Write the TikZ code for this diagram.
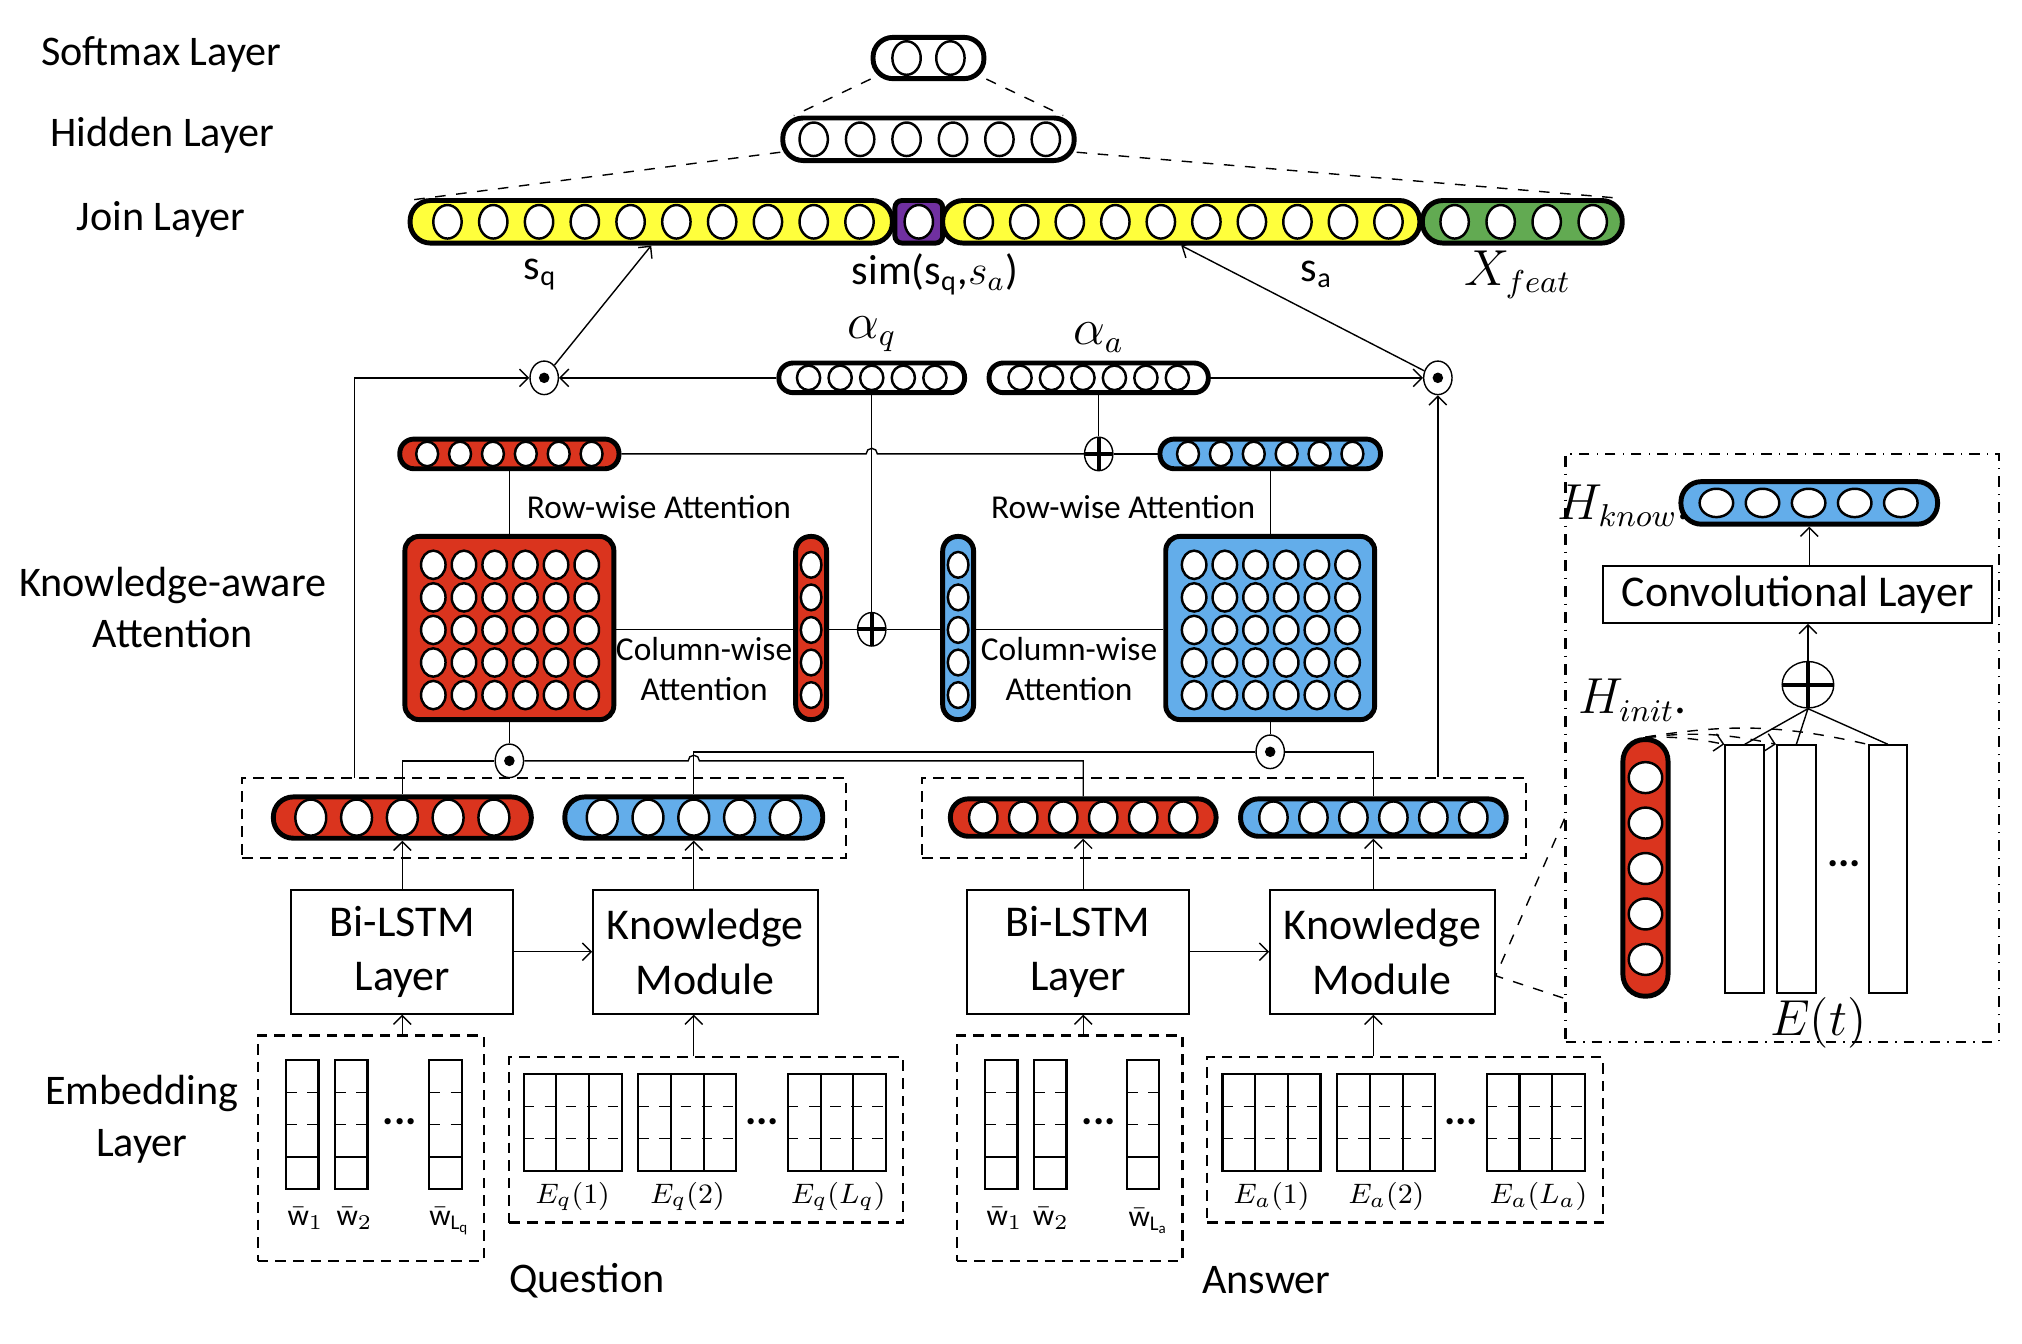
\documentclass[tikz,border=0pt]{standalone}
\usepackage{amsmath}
\usepackage{fontspec}
\setmainfont{Carlito}
\usetikzlibrary{shapes.geometric, arrows.meta, positioning}
\newcommand{\pxu}{0.012895cm}
\definecolor{qred}{RGB}{218,52,30}
\definecolor{ablue}{RGB}{99,173,234}
\definecolor{joinyellow}{RGB}{255,255,60}
\definecolor{simpurple}{RGB}{112,48,160}
\definecolor{featgreen}{RGB}{98,170,82}
\tikzset{>={Straight Barb[length=2.5pt,width=5pt]}, % Open arrow heads
hpill/.style 2 args={ % Horizontal vector of units
draw, line width=1.4pt, inner sep=0pt,
minimum width=#1*\pxu, minimum height=#2*\pxu,
rounded corners=#2*0.48*\pxu},
vpill/.style 2 args={ % Vertical vector of units
draw, line width=1.4pt, inner sep=0pt,
minimum width=#1*\pxu, minimum height=#2*\pxu,
rounded corners=#1*0.48*\pxu},
unit/.style 2 args={ellipse, draw, fill=white, line width=0.7pt, inner sep=0pt,
minimum width=#1*\pxu, minimum height=#2*\pxu},
mat/.style={draw, line width=1.4pt, rounded corners=4pt, inner sep=0pt,
minimum width=162*\pxu, minimum height=142*\pxu},
odot/.style={ellipse, draw, fill=white, inner sep=0pt,
minimum width=22*\pxu, minimum height=26*\pxu,
path picture={\fill[black] (path picture bounding box.center) circle (1.5pt);}},
oplus/.style 2 args={ellipse, draw, fill=white, inner sep=0pt,
minimum width=#1*\pxu, minimum height=#2*\pxu,
path picture={\draw[line width=1.1pt] (path picture bounding box.north) -- (path picture bounding box.south)
(path picture bounding box.west) -- (path picture bounding box.east);}},
grp/.style={draw, dash pattern=on 3pt off 2pt, line width=0.6pt, inner sep=0pt},
blk/.style={draw, line width=0.6pt, inner sep=0pt, align=center,
font=\fontsize{12.5}{15.5}\selectfont},
wvec/.style={draw, line width=0.6pt, inner sep=0pt,
minimum width=25*\pxu, minimum height=100*\pxu},
egrid/.style={draw, line width=0.6pt, inner sep=0pt,
minimum width=76*\pxu, minimum height=75*\pxu},
evec/.style={draw, line width=0.6pt, inner sep=0pt,
minimum width=30*\pxu, minimum height=192*\pxu},
lbl/.style={align=center, font=\fontsize{12}{14.6}\selectfont},
mlbl/.style={font=\fontsize{13.5}{15}\selectfont}, % Math names
small/.style={align=center, font=\fontsize{9.5}{11.3}\selectfont},
tiny/.style={font=\fontsize{8.5}{10}\selectfont}}

\begin{document}
\begin{tikzpicture}[x=\pxu, y=-\pxu]
    \useasboundingbox (0,0) rectangle (1568,1042);

    % layer names
    \node[lbl] (lsoft) at (125,42) {Softmax Layer};
    \node[lbl] (lhid) at (126,105) {Hidden Layer};
    \node[lbl] (ljoin) at (125,170) {Join Layer};
    \node[lbl] (latt) at (134,471) {Knowledge-aware\\Attention};
    \node[lbl] (lemb) at (110,868) {Embedding\\Layer};
    \node[lbl] (lques) at (455,993) {Question};
    \node[lbl] (lans) at (982,993) {Answer};

    % softmax, hidden and join layers
    \node[hpill={86}{32}] (soft) at (720,45) {};
    \foreach \i in {0,1} \node[unit={22}{26}] (soft\i) at (703+34*\i,45) {};
    \node[hpill={226}{33}] (hid) at (720,108) {};
    \foreach \i in {0,...,5} \node[unit={22}{26}] (hid\i) at (631+36*\i,108) {};
    \node[hpill={374}{33}, fill=joinyellow] (sq) at (505,172) {};
    \foreach \i in {0,...,9} \node[unit={22}{26}] (sq\i) at (347+35.5*\i,172) {};
    \node[draw, line width=1.4pt, fill=simpurple, rounded corners=2pt, inner sep=0pt,
        minimum width=37*\pxu, minimum height=33*\pxu] (sim) at (712.5,172) {};
    \node[unit={22}{26}] (sim0) at (712.5,172) {};
    \node[hpill={370}{33}, fill=joinyellow] (sa) at (916,172) {};
    \foreach \i in {0,...,9} \node[unit={22}{26}] (sa\i) at (759+35.3*\i,172) {};
    \node[hpill={155}{33}, fill=featgreen] (feat) at (1180.5,172) {};
    \foreach \i in {0,...,3} \node[unit={22}{26}] (feat\i) at (1128+35.7*\i,172) {};

    \draw[dashed] (soft.200) -- (hid.170);
    \draw[dashed] (soft.340) -- (hid.10);
    \draw[dashed] (hid.185) -- (sq.175);
    \draw[dashed] (hid.355) -- (feat.14);

    \node[lbl] (lsq) at (419,213) {s\textsubscript{q}};
    \node[lbl] (lsim) at (725,213) {sim(s\textsubscript{q},$s_a$)};
    \node[lbl] (lsa) at (1021,213) {s\textsubscript{a}};
    \node[mlbl] (lfeat) at (1177,213) {$X_{feat}$};

    % attention weights
    \node[hpill={144}{23}] (aq) at (676,293) {};
    \foreach \i in {0,...,4} \node[unit={18}{19}] (aq\i) at (627+24.5*\i,293) {};
    \node[hpill={170}{23}] (aa) at (852,293) {};
    \foreach \i in {0,...,5} \node[unit={18}{19}] (aa\i) at (791+24.4*\i,293) {};
    \node[mlbl] (laq) at (676,259) {$\alpha_q$};
    \node[mlbl] (laa) at (852,262) {$\alpha_a$};
    \node[odot] (oq) at (422,293) {};
    \node[odot] (oa) at (1115,293) {};

    \draw[->] (oq) -- (sq.south);
    \draw[->] (oa) -- (sa.south);
    \draw[->] (aq.west) -- (oq.east);
    \draw[->] (aa.east) -- (oa.west);

    % row-wise and column-wise attention
    \node[hpill={170}{23}, fill=qred] (rq) at (395,352) {};
    \foreach \i in {0,...,5} \node[unit={17}{19}] (rq\i) at (331.25+25.5*\i,352) {};
    \node[hpill={171}{23}, fill=ablue] (ra) at (985,352) {};
    \foreach \i in {0,...,5} \node[unit={17}{19}] (ra\i) at (921.25+25.5*\i,352) {};
    \node[oplus={22}{26}] (pr) at (852,352) {};
    \coordinate (hop1) at (676,352);
    \draw (rq.east) -- ([xshift=-1.6pt]hop1) arc[start angle=180, end angle=0, radius=1.6pt] -- (pr.west);
    \draw (pr.east) -- (ra.west);
    \draw (aa.south) -- (pr.north);
    \node[small] (lrq) at (511,393) {Row-wise Attention};
    \node[small] (lra) at (871,393) {Row-wise Attention};

    \node[mat, fill=qred] (mq) at (395,487) {};
    \foreach \c in {0,...,5} \foreach \r in {0,...,4}
        \node[unit={19}{22}] (mq\c\r) at (336+23.8*\c,438+25.25*\r) {};
    \node[mat, fill=ablue] (ma) at (985,487) {};
    \foreach \c in {0,...,5} \foreach \r in {0,...,4}
        \node[unit={19}{22}] (ma\c\r) at (926+23.8*\c,438+25.25*\r) {};
    \node[vpill={24}{142}, fill=qred] (cq) at (629,487) {};
    \foreach \r in {0,...,4} \node[unit={16}{20}] (cq\r) at (629,438+25.25*\r) {};
    \node[vpill={24}{142}, fill=ablue] (ca) at (743,487) {};
    \foreach \r in {0,...,4} \node[unit={16}{20}] (ca\r) at (743,438+25.25*\r) {};
    \node[oplus={22}{26}] (pc) at (676,488) {};

    \draw (rq.south) -- (mq.north);
    \draw (ra.south) -- (ma.north);
    \draw (mq.east |- pc) -- (cq.west |- pc);
    \draw (cq.east |- pc) -- (pc.west);
    \draw (pc.east) -- (ca.west |- pc);
    \draw (ca.east |- pc) -- (ma.west |- pc);
    \draw (aq.south) -- (pc.north);
    \node[small] (lcq) at (546,519) {Column-wise\\Attention};
    \node[small] (lca) at (829,519) {Column-wise\\Attention};

    % attentive pooling
    \node[odot] (omq) at (395,590) {};
    \node[odot] (oma) at (985,583) {};
    \draw (mq.south) -- (omq.north);
    \draw (ma.south) -- (oma.north);

    % encoded question and answer
    \node[grp, minimum width=468*\pxu, minimum height=62*\pxu] (gq) at (422,634) {};
    \node[grp, minimum width=468*\pxu, minimum height=62*\pxu] (ga) at (949,634) {};
    \node[hpill={200}{32}, fill=qred] (hq) at (312,634) {};
    \foreach \i in {0,...,4} \node[unit={24}{28}] (hq\i) at (241+35.5*\i,634) {};
    \node[hpill={200}{32}, fill=ablue] (kq) at (538,634) {};
    \foreach \i in {0,...,4} \node[unit={24}{28}] (kq\i) at (467+35.5*\i,634) {};
    \node[hpill={206}{29}, fill=qred] (ha) at (840,634) {};
    \foreach \i in {0,...,5} \node[unit={22}{25}] (ha\i) at (762.5+31*\i,634) {};
    \node[hpill={206}{29}, fill=ablue] (ka) at (1065,634) {};
    \foreach \i in {0,...,5} \node[unit={22}{25}] (ka\i) at (987.5+31*\i,634) {};

    \coordinate (hop2) at (538,590);
    \draw (omq.west) -| (hq.north);
    \draw (omq.east) -- ([xshift=-1.6pt]hop2) arc[start angle=180, end angle=0, radius=1.6pt] -| (ha.north);
    \draw (oma.west) -| (kq.north);
    \draw (oma.east) -| (ka.north);
    \coordinate (tapq) at (275,603);
    \draw[->] (tapq) |- (oq.west);
    \draw[->] (oa.south |- ga.north) -- (oa.south);

    % Bi-LSTM and knowledge modules
    \node[blk, minimum width=172*\pxu, minimum height=96*\pxu] (lq) at (312,738) {Bi-LSTM\\Layer};
    \node[blk, minimum width=174*\pxu, minimum height=96*\pxu] (mdq) at (547,738) {Knowledge\\Module};
    \node[blk, minimum width=172*\pxu, minimum height=96*\pxu] (la) at (836,738) {Bi-LSTM\\Layer};
    \node[blk, minimum width=174*\pxu, minimum height=96*\pxu] (mda) at (1072,738) {Knowledge\\Module};
    \draw[->] (lq) -- (mdq);
    \draw[->] (la) -- (mda);
    \draw[->] (lq.north) -- (hq.south);
    \draw[->] (kq.south |- mdq.north) -- (kq.south);
    \draw[->] (ha.south |- la.north) -- (ha.south);
    \draw[->] (ka.south |- mda.north) -- (ka.south);

    % embedding layer
    \node[grp, minimum width=175*\pxu, minimum height=175*\pxu] (wq) at (287.5,890.5) {};
    \node[grp, minimum width=305*\pxu, minimum height=128*\pxu] (eq) at (547.5,884) {};
    \node[grp, minimum width=175*\pxu, minimum height=175*\pxu] (wa) at (829.5,890.5) {};
    \node[grp, minimum width=307*\pxu, minimum height=128*\pxu] (ea) at (1089.5,884) {};
    \draw[->] (lq.south |- wq.north) -- (lq.south);
    \draw[->] (kq.south |- eq.north) -- (kq.south |- mdq.south);
    \draw[->] (ha.south |- wa.north) -- (ha.south |- la.south);
    \draw[->] (ka.south |- ea.north) -- (ka.south |- mda.south);

    \foreach \x/\n in {234.5/wq1, 272.5/wq2, 345.5/wq3, 776.5/wa1, 814.5/wa2, 886.5/wa3} {
        \node[wvec] (\n) at (\x,872) {};
        \draw[dashed] (\x-12.5,847) -- (\x+12.5,847) (\x-12.5,872) -- (\x+12.5,872);
        \draw[line width=0.6pt] (\x-12.5,897) -- (\x+12.5,897);
    }
    \foreach \x/\n in {444/eq1, 533/eq2, 649/eq3, 986/ea1, 1075/ea2, 1191/ea3} {
        \node[egrid] (\n) at (\x,870.5) {};
        \draw[line width=0.6pt] (\x-12.67,833) -- (\x-12.67,908) (\x+12.67,833) -- (\x+12.67,908);
        \draw[dashed] (\x-38,858) -- (\x+38,858) (\x-38,883) -- (\x+38,883);
    }
    \node[tiny] (lwq1) at (237,945) {$\bar{\mathrm{w}}_1$};
    \node[tiny] (lwq2) at (275,945) {$\bar{\mathrm{w}}_2$};
    \node[tiny] (lwq3) at (349,947) {$\bar{\mathrm{w}}_{\mathrm{L_q}}$};
    \node[tiny] (lwa1) at (779,945) {$\bar{\mathrm{w}}_1$};
    \node[tiny] (lwa2) at (815,945) {$\bar{\mathrm{w}}_2$};
    \node[tiny] (lwa3) at (891,947) {$\bar{\mathrm{w}}_{\mathrm{L_a}}$};
    \node[tiny] (leq1) at (444,928) {$E_q(1)$};
    \node[tiny] (leq2) at (533,928) {$E_q(2)$};
    \node[tiny] (leq3) at (650,928) {$E_q(L_q)$};
    \node[tiny] (lea1) at (986,928) {$E_a(1)$};
    \node[tiny] (lea2) at (1075,928) {$E_a(2)$};
    \node[tiny] (lea3) at (1193,928) {$E_a(L_a)$};
    \node[lbl] (dwq) at (310,870) {\textbf{...}};
    \node[lbl] (dwa) at (852,870) {\textbf{...}};
    \node[lbl] (deq) at (591,870) {\textbf{...}};
    \node[lbl] (dea) at (1133,870) {\textbf{...}};

    % knowledge module in detail
    \node[draw, dash dot, line width=0.6pt, inner sep=0pt,
        minimum width=336*\pxu, minimum height=456*\pxu] (zb) at (1382,580) {};
    \node[hpill={199}{33}, fill=ablue] (hk) at (1403,390) {};
    \foreach \i in {0,...,4} \node[unit={26}{22}] (hk\i) at (1331+35.75*\i,390) {};
    \node[mlbl] (lhk) at (1259,392) {$H_{know}$.};
    \node[blk, minimum width=302*\pxu, minimum height=44*\pxu] (conv) at (1394,461) {Convolutional Layer};
    \draw[->] (hk.south |- conv.north) -- (hk.south);
    \node[oplus={40}{36}] (pk) at (1402,531) {};
    \draw[->] (pk.north) -- (pk.north |- conv.south);
    \foreach \x/\n in {1353/e1, 1393/e2, 1464/e3} \node[evec] (\n) at (\x,674) {};
    \draw (pk.south) -- (e1.north) (pk.south) -- (e2.north) (pk.south) -- (e3.north);
    \node[vpill={35}{199}, fill=qred] (hi) at (1276,673) {};
    \foreach \i in {0,...,4} \node[unit={26}{24}] (hi\i) at (1276,603+35.25*\i) {};
    \node[mlbl] (lhi) at (1266,543) {$H_{init}$.};
    \draw[dashed, ->] (hi.north) to[bend left=6] (e1.north west);
    \draw[dashed, ->] (hi.north) to[bend left=9] (e2.north west);
    \draw[dashed] (hi.north) to[bend left=11] (e3.north west);
    \node[lbl] (de) at (1430,670) {\textbf{...}};
    \node[mlbl] (let) at (1410,793) {$E(t)$};
    \draw[dashed] (zb.198) -- (mda.-12) -- (zb.229);

\end{tikzpicture}
\end{document}
